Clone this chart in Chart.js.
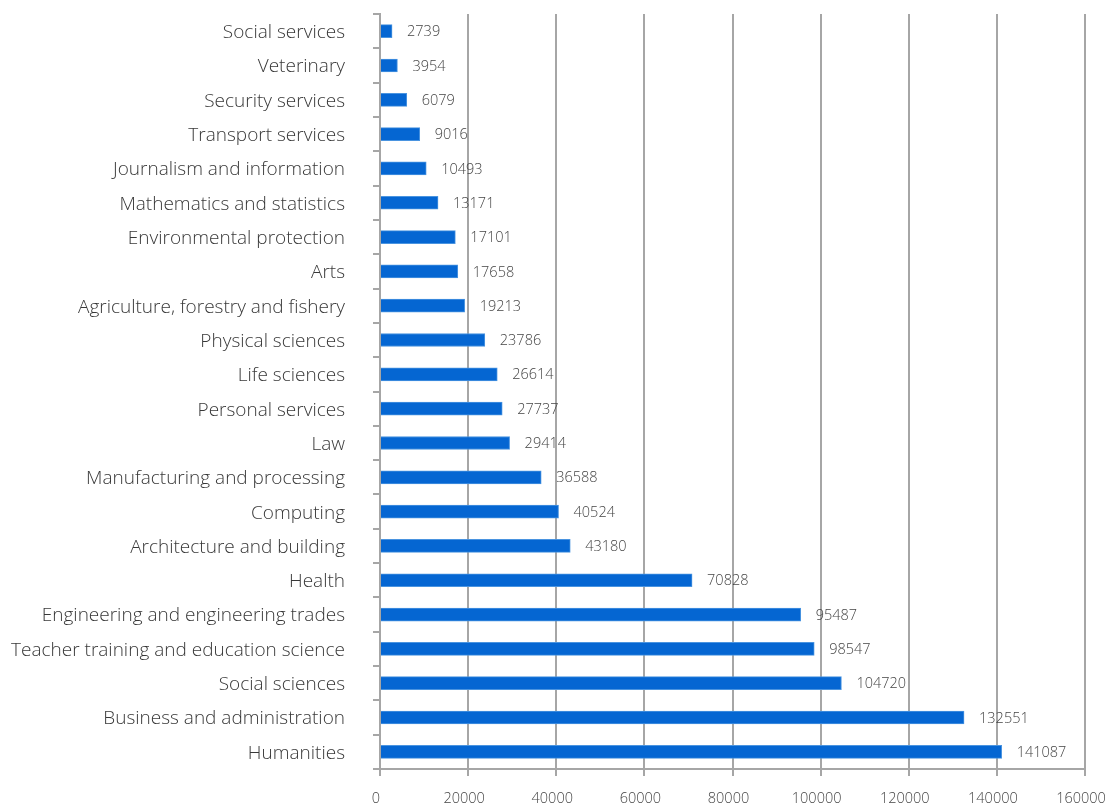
<!DOCTYPE html>
<html>
<head>
<meta charset="utf-8">
<script src="https://cdn.jsdelivr.net/npm/chart.js@4"></script>
<style>
  html, body { margin: 0; padding: 0; background: #fff; }
  #wrap { width: 1105px; height: 807px; }
</style>
</head>
<body>
<div id="wrap"><canvas id="fields"></canvas></div>
<script>
let fieldnames = [
  'Social services', 'Veterinary', 'Security services', 'Transport services',
  'Journalism and information', 'Mathematics and statistics', 'Environmental protection',
  'Arts', 'Agriculture, forestry and fishery', 'Physical sciences', 'Life sciences',
  'Personal services', 'Law', 'Manufacturing and processing', 'Computing',
  'Architecture and building', 'Health', 'Engineering and engineering trades',
  'Teacher training and education science', 'Social sciences',
  'Business and administration', 'Humanities'
]
let studentcounts = [
  2739, 3954, 6079, 9016, 10493, 13171, 17101, 17658, 19213, 23786, 26614,
  27737, 29414, 36588, 40524, 43180, 70828, 95487, 98547, 104720, 132551, 141087
]
let xticks = [0, 20000, 40000, 60000, 80000, 100000, 120000, 140000, 160000]

// writes the count just to the right of each bar
let valuelabels = {
  id: 'valuelabels',
  afterDatasetsDraw(chart) {
    let ctx = chart.ctx
    let meta = chart.getDatasetMeta(0)
    ctx.save()
    ctx.font = '300 14.5px "Open Sans"'
    ctx.fillStyle = '#454545'
    ctx.textAlign = 'left'
    ctx.textBaseline = 'middle'
    meta.data.forEach(function (bar, i) {
      ctx.fillText(String(studentcounts[i]), bar.x + 15, bar.y + 1)
    })
    ctx.restore()
  }
}

let chartposition = document.getElementById('fields')
let fieldchart = new Chart(chartposition, {
  type: 'bar',
  data: {
    labels: fieldnames,
    datasets: [{
      data: studentcounts,
      backgroundColor: '#0566d2',
      borderColor: '#4a94e0',
      borderWidth: 1,
      barThickness: 13
    }]
  },
  options: {
    indexAxis: 'y',
    responsive: true,
    maintainAspectRatio: false,
    animation: false,
    layout: { padding: { top: 14, right: 20, left: 0, bottom: 0 } },
    plugins: {
      legend: { display: false },
      tooltip: { enabled: false }
    },
    scales: {
      x: {
        min: 0,
        max: 160000,
        afterBuildTicks: function (scale) {
          scale.ticks = xticks.map(function (v) { return { value: v } })
        },
        afterFit: function (scale) {
          scale.height = 38
          scale.paddingLeft = 0
          scale.paddingRight = 0
        },
        grid: { color: '#a6a6a6', lineWidth: 2, tickLength: 7 },
        border: { color: '#a6a6a6', width: 2 },
        ticks: {
          color: '#454545',
          font: { family: 'Open Sans', size: 14.5, weight: '300' },
          padding: 14,
          labelOffset: -4,
          maxRotation: 0,
          autoSkip: false,
          callback: function (value) { return String(value) }
        }
      },
      y: {
        afterFit: function (scale) {
          scale.width = 380
          scale.paddingTop = 0
          scale.paddingBottom = 0
        },
        grid: { drawOnChartArea: false, color: '#a6a6a6', lineWidth: 2, tickLength: 7, offset: true },
        border: { color: '#a6a6a6', width: 2 },
        ticks: {
          color: '#383838',
          font: { family: 'Open Sans', size: 19, weight: '300' },
          padding: 28,
          labelOffset: 1.5,
          autoSkip: false
        }
      }
    }
  },
  plugins: [valuelabels]
})
</script>
</body>
</html>
